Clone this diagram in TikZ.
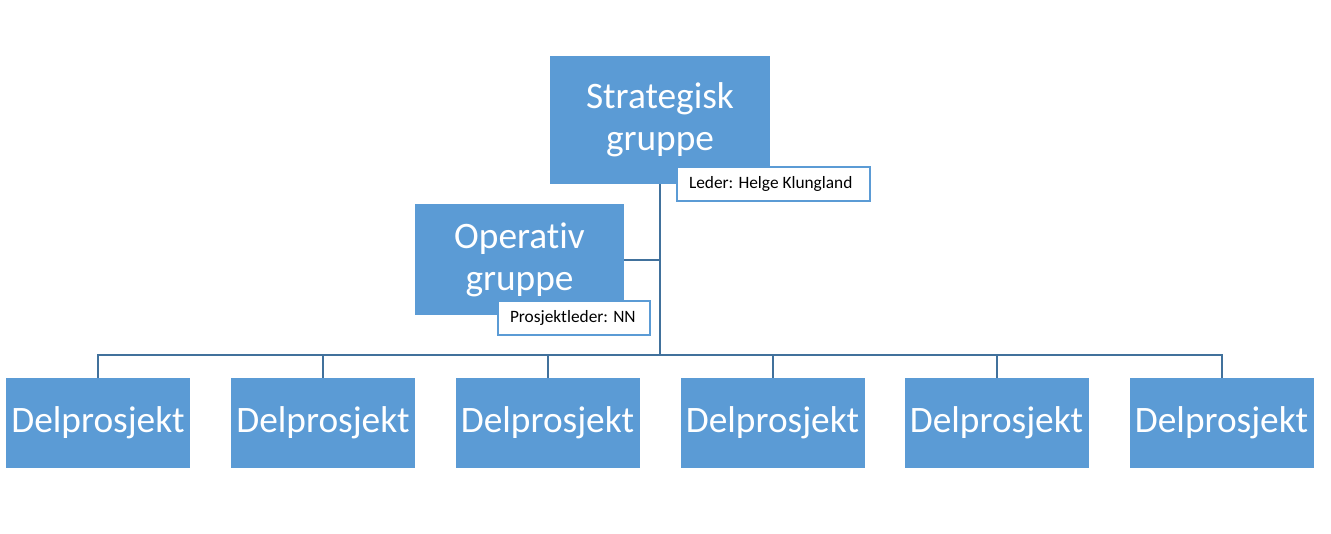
\documentclass[tikz,border=0pt]{standalone}
\usepackage{fontspec}
\setmainfont{Carlito}[Ligatures=CommonOff]
\definecolor{boxblue}{HTML}{5B9BD5}
\definecolor{lineblue}{HTML}{41719C}
\begin{document}
\begin{tikzpicture}[x=0.75pt,y=-0.75pt,
  bluebox/.style={fill=boxblue,draw=none,text=white,inner sep=0pt,align=center,
    font=\fontsize{28}{31.5}\selectfont},
  grpbox/.style={bluebox},
  delbox/.style={bluebox,minimum width=138pt,minimum height=67.5pt},
  labelbox/.style={fill=white,draw=boxblue,line width=1.5pt,inner xsep=9pt,inner ysep=0pt,
    font=\fontsize{13}{15}\selectfont,minimum height=25.5pt},
  conn/.style={draw=lineblue,line width=1.5pt}]
\useasboundingbox (0,0) rectangle (1331,533);
\node[grpbox,minimum width=165pt,minimum height=96pt] (S) at (660,120) {Strategisk\\gruppe};
\node[grpbox,minimum width=156.75pt,minimum height=83.25pt] (O) at (519.5,259.5) {Operativ\\gruppe};
\foreach \i/\x in {1/98,2/323,3/547.5,4/772.5,5/996.5,6/1221.5}{
  \node[delbox] (D\i) at (\x,423) {Delprosjekt};
}
\coordinate (bus) at (660,355);
\draw[conn] (S.south) -- (S.south |- bus);
\draw[conn] (O.east) -- (O.east -| S.south);
\draw[conn] (D1.north) |- (D6.north |- bus) -- (D6.north);
\foreach \i in {2,3,4,5}{
  \draw[conn] (D\i.north) -- (D\i.north |- bus);
}
\node[labelbox] (L1) at (773.5,184) {\makebox[126.75pt][l]{Leder: Helge Klungland}};
\node[labelbox] (L2) at (574,317.5) {\makebox[96pt][l]{Prosjektleder: NN}};
\end{tikzpicture}
\end{document}
